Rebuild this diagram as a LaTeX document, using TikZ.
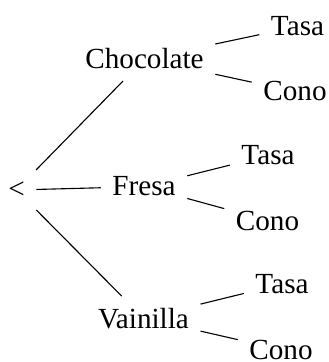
\documentclass[tikz,border=0pt]{standalone}
\usepackage{fontspec}
\setmainfont{Liberation Serif}
\begin{document}
\begin{tikzpicture}[x=0.36pt,y=-0.36pt,
  lbl/.style={inner sep=4pt, font=\fontsize{10.5}{12}\selectfont},
  branch/.style={line width=0.4pt}]
\useasboundingbox (0,0) rectangle (328,362);
% root
\node[lbl,anchor=center] (root) at (16.5,190) {<};
% first level: flavours
\node[lbl,anchor=base] (choc) at (144.5,69) {Chocolate};
\node[lbl,anchor=base] (fresa) at (144,196) {Fresa};
\node[lbl,anchor=base] (vain) at (143.5,328) {Vainilla};
% second level: serving
\node[lbl,anchor=base] (t1) at (297.5,36) {Tasa};
\node[lbl,anchor=base] (c1) at (295,101) {Cono};
\node[lbl,anchor=base] (t2) at (268,165) {Tasa};
\node[lbl,anchor=base] (c2) at (267.5,230) {Cono};
\node[lbl,anchor=base] (t3) at (282,293.5) {Tasa};
\node[lbl,anchor=base] (c3) at (281,359) {Cono};
% branches
\draw[branch] (root) -- (choc);
\draw[branch] (root) -- (fresa);
\draw[branch] (root) -- (vain);
\draw[branch] (choc) -- (t1);
\draw[branch] (choc) -- (c1);
\draw[branch] (fresa) -- (t2);
\draw[branch] (fresa) -- (c2);
\draw[branch] (vain) -- (t3);
\draw[branch] (vain) -- (c3);
\end{tikzpicture}
\end{document}
